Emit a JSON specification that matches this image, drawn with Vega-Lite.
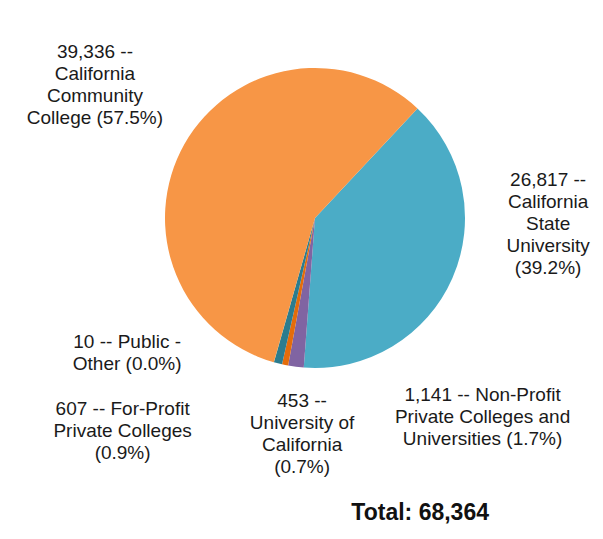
{
  "$schema": "https://vega.github.io/schema/vega-lite/v6.json",
  "width": 400,
  "height": 400,
  "autosize": "none",
  "padding": {"left": 115, "top": 18, "right": 88, "bottom": 121},
  "background": "white",
  "config": {"view": {"stroke": null}, "font": "Liberation Sans"},
  "title": {
    "text": "Total: 68,364",
    "orient": "bottom",
    "anchor": "end",
    "frame": "group",
    "dx": -26,
    "offset": 25,
    "fontSize": 23,
    "fontWeight": "bold",
    "font": "Liberation Sans",
    "color": "#111111"
  },
  "data": {
    "values": [
      {"sector": "California State University", "count": 26817, "rank": 1, "label": "26,817 --\nCalifornia\nState\nUniversity\n(39.2%)"},
      {"sector": "Non-Profit Private Colleges and Universities", "count": 1141, "rank": 2, "label": "1,141 -- Non-Profit\nPrivate Colleges and\nUniversities (1.7%)"},
      {"sector": "University of California", "count": 453, "rank": 3, "label": "453 --\nUniversity of\nCalifornia\n(0.7%)"},
      {"sector": "For-Profit Private Colleges", "count": 607, "rank": 4, "label": "607 -- For-Profit\nPrivate Colleges\n(0.9%)"},
      {"sector": "Public - Other", "count": 10, "rank": 5, "label": "10 -- Public -\nOther (0.0%)"},
      {"sector": "California Community College", "count": 39336, "rank": 6, "label": "39,336 --\nCalifornia\nCommunity\nCollege (57.5%)"}
    ]
  },
  "encoding": {
    "theta": {"field": "count", "type": "quantitative", "stack": true, "scale": {"range": [0.752, 7.0352]}},
    "order": {"field": "rank", "type": "quantitative"}
  },
  "layer": [
    {
      "mark": {"type": "arc", "outerRadius": 150},
      "encoding": {
        "color": {
          "field": "sector",
          "type": "nominal",
          "legend": null,
          "scale": {
            "domain": ["California State University", "Non-Profit Private Colleges and Universities", "University of California", "For-Profit Private Colleges", "Public - Other", "California Community College"],
            "range": ["#4BACC6", "#8064A2", "#E46C0A", "#2C7C8E", "#9BBB59", "#F79646"]
          }
        }
      }
    },
    {
      "mark": {"type": "text", "radius": 200, "dx": 50, "dy": -118, "fontSize": 19, "lineBreak": "\n", "lineHeight": 22, "align": "center", "baseline": "middle", "color": "#1a1a1a"},
      "encoding": {"text": {"condition": {"test": "datum.rank === 1", "field": "label"}, "value": ""}}
    },
    {
      "mark": {"type": "text", "radius": 200, "dx": 193, "dy": -21, "fontSize": 19, "lineBreak": "\n", "lineHeight": 22, "align": "center", "baseline": "middle", "color": "#1a1a1a"},
      "encoding": {"text": {"condition": {"test": "datum.rank === 2", "field": "label"}, "value": ""}}
    },
    {
      "mark": {"type": "text", "radius": 200, "dx": 27, "dy": -13, "fontSize": 19, "lineBreak": "\n", "lineHeight": 22, "align": "center", "baseline": "middle", "color": "#1a1a1a"},
      "encoding": {"text": {"condition": {"test": "datum.rank === 3", "field": "label"}, "value": ""}}
    },
    {
      "mark": {"type": "text", "radius": 200, "dx": -143, "dy": -3, "fontSize": 19, "lineBreak": "\n", "lineHeight": 22, "align": "center", "baseline": "middle", "color": "#1a1a1a"},
      "encoding": {"text": {"condition": {"test": "datum.rank === 4", "field": "label"}, "value": ""}}
    },
    {
      "mark": {"type": "text", "radius": 200, "dx": -133, "dy": -68, "fontSize": 19, "lineBreak": "\n", "lineHeight": 22, "align": "center", "baseline": "middle", "color": "#1a1a1a"},
      "encoding": {"text": {"condition": {"test": "datum.rank === 5", "field": "label"}, "value": ""}}
    },
    {
      "mark": {"type": "text", "radius": 200, "dx": -46, "dy": -67, "fontSize": 19, "lineBreak": "\n", "lineHeight": 22, "align": "center", "baseline": "middle", "color": "#1a1a1a"},
      "encoding": {"text": {"condition": {"test": "datum.rank === 6", "field": "label"}, "value": ""}}
    }
  ]
}
